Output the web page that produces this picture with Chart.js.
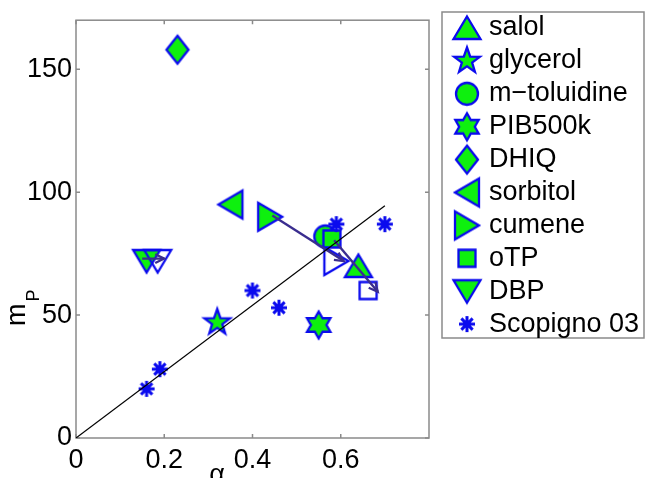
<!DOCTYPE html>
<html>
<head>
<meta charset="utf-8">
<script src="https://cdn.jsdelivr.net/npm/chart.js@4/dist/chart.umd.min.js"></script>
<style>
  html, body { margin: 0; padding: 0; background: #fff; }
  canvas { display: block; }
</style>
</head>
<body>
<canvas id="mpChart" width="646" height="478"></canvas>
<script>
// alpha vs fragility m_P; where a liquid has two points the second is the shifted value
const salol      = [[0.64, 70]];
const glycerol   = [[0.32, 47]];
const mToluidine = [[0.565, 82]];
const pib500k    = [[0.55, 46]];
const dhiq       = [[0.23, 158]];
const sorbitol   = [[0.35, 95]];
const cumene     = [[0.44, 90], [0.59, 72]];
const otp        = [[0.58, 81], [0.662, 60]];
const dbp        = [[0.16, 72], [0.185, 72]];
const scopigno   = [[0.16, 20], [0.19, 28], [0.40, 60], [0.46, 53], [0.59, 87], [0.70, 87]];

// shift arrows and the linear guide
const cumeneShift = [[0.445, 90.5], [0.607, 72]];
const otpShift    = [[0.585, 80.5], [0.684, 59.5]];
const dbpShift    = [[0.15, 73], [0.20, 73]];
const guideLine   = [[0, 0], [0.70, 94.5]];

const xTicks = [0, 0.2, 0.4, 0.6];
const yTicks = [0, 50, 100, 150];

const BLUE = '#0a0aee';
const GREEN = '#0ef00e';
const GRAY = '#8a8a8a';
const ARROW = '#3a2d8f';
const FONT = "'Liberation Sans', Arial, sans-serif";

Chart.defaults.font.family = FONT;

function toXY(pts) {
    return pts.map(p => ({x: p[0], y: p[1]}));
}

// marker sprites used as pointStyle images
function marker(shape, filled) {
    const s = 38;
    const c = document.createElement('canvas');
    c.width = s;
    c.height = s;
    const g = c.getContext('2d');
    g.translate(s / 2, s / 2);
    g.lineWidth = 2.3;
    g.strokeStyle = BLUE;
    g.fillStyle = GREEN;
    g.lineJoin = 'miter';
    g.beginPath();
    if (shape === 'up') {
        g.moveTo(0, -11.5); g.lineTo(13.5, 11); g.lineTo(-13.5, 11);
    } else if (shape === 'down') {
        g.moveTo(0, 11.5); g.lineTo(13.5, -11); g.lineTo(-13.5, -11);
    } else if (shape === 'left') {
        g.moveTo(-12, 0); g.lineTo(12, -14); g.lineTo(12, 14);
    } else if (shape === 'right') {
        g.moveTo(12, 0); g.lineTo(-12, -14); g.lineTo(-12, 14);
    } else if (shape === 'diamond') {
        g.moveTo(0, -14); g.lineTo(11, 0); g.lineTo(0, 14); g.lineTo(-11, 0);
    } else if (shape === 'circle') {
        g.arc(0, 0, 11, 0, Math.PI * 2);
    } else if (shape === 'square') {
        g.rect(-8.5, -8.5, 17, 17);
    } else if (shape === 'star5' || shape === 'star6') {
        const n = shape === 'star5' ? 5 : 6;
        const ro = 13.5;
        const ri = shape === 'star5' ? 5.4 : 7.8;
        for (let i = 0; i < n * 2; i++) {
            const r = i % 2 ? ri : ro;
            const a = -Math.PI / 2 + i * Math.PI / n;
            g.lineTo(r * Math.cos(a), r * Math.sin(a));
        }
    } else if (shape === 'asterisk') {
        g.lineWidth = 3;
        g.lineCap = 'butt';
        for (let i = 0; i < 4; i++) {
            const a = i * Math.PI / 4;
            g.moveTo(-8 * Math.cos(a), -8 * Math.sin(a));
            g.lineTo(8 * Math.cos(a), 8 * Math.sin(a));
        }
        g.stroke();
        return c;
    }
    g.closePath();
    if (filled) g.fill();
    g.stroke();
    return c;
}

// later series are painted over earlier ones
let seriesCount = 0;

function series(label, pts, shape) {
    const full = marker(shape, true);
    const open = marker(shape, false);
    seriesCount++;
    return {
        label: label,
        data: toXY(pts),
        pointStyle: pts.map((p, i) => i === 0 || shape === 'asterisk' ? full : open),
        pointRadius: 13,
        legendImg: full,
        order: 50 - seriesCount
    };
}

function guide(pts, color, width, arrow) {
    return {
        data: toXY(pts),
        showLine: true,
        borderColor: color,
        borderWidth: width,
        pointRadius: 0,
        arrow: arrow,
        order: arrow ? 1 : 0
    };
}

const datasets = [
    series('salol', salol, 'up'),
    series('glycerol', glycerol, 'star5'),
    series('m\u2212toluidine', mToluidine, 'circle'),
    series('PIB500k', pib500k, 'star6'),
    series('DHIQ', dhiq, 'diamond'),
    series('sorbitol', sorbitol, 'left'),
    series('cumene', cumene, 'right'),
    series('oTP', otp, 'square'),
    series('DBP', dbp, 'down'),
    series('Scopigno 03', scopigno, 'asterisk'),
    guide(cumeneShift, ARROW, 2.4, true),
    guide(otpShift, ARROW, 2.4, true),
    guide(dbpShift, ARROW, 2.4, true),
    guide(guideLine, '#000', 1.2, false)
];

// axis box with inward ticks on all four sides
const frame = {
    id: 'frame',
    beforeDatasetsDraw(chart) {
        const {ctx, chartArea: a, scales} = chart;
        ctx.save();
        ctx.strokeStyle = GRAY;
        ctx.lineWidth = 1.5;
        ctx.strokeRect(a.left, a.top, a.right - a.left, a.bottom - a.top);
        ctx.beginPath();
        xTicks.forEach(v => {
            const x = scales.x.getPixelForValue(v);
            ctx.moveTo(x, a.bottom); ctx.lineTo(x, a.bottom - 4);
            ctx.moveTo(x, a.top); ctx.lineTo(x, a.top + 4);
        });
        yTicks.forEach(v => {
            const y = scales.y.getPixelForValue(v);
            ctx.moveTo(a.left, y); ctx.lineTo(a.left + 4, y);
            ctx.moveTo(a.right, y); ctx.lineTo(a.right - 4, y);
        });
        ctx.stroke();
        ctx.restore();
    }
};

// V-shaped heads at the end of the shift lines
const arrowHeads = {
    id: 'arrowHeads',
    afterDatasetsDraw(chart) {
        const ctx = chart.ctx;
        chart.data.datasets.forEach((ds, i) => {
            if (!ds.arrow) return;
            const pts = chart.getDatasetMeta(i).data;
            const p0 = pts[pts.length - 2], p1 = pts[pts.length - 1];
            const ang = Math.atan2(p1.y - p0.y, p1.x - p0.x);
            const len = 10, spread = 0.45;
            ctx.save();
            ctx.strokeStyle = ds.borderColor;
            ctx.lineWidth = 2.2;
            ctx.beginPath();
            ctx.moveTo(p1.x - len * Math.cos(ang - spread), p1.y - len * Math.sin(ang - spread));
            ctx.lineTo(p1.x, p1.y);
            ctx.lineTo(p1.x - len * Math.cos(ang + spread), p1.y - len * Math.sin(ang + spread));
            ctx.stroke();
            ctx.restore();
        });
    }
};

// boxed legend on the right
const legendBox = {
    id: 'legendBox',
    afterDraw(chart) {
        const ctx = chart.ctx;
        ctx.save();
        ctx.strokeStyle = GRAY;
        ctx.lineWidth = 1.5;
        ctx.strokeRect(442, 12, 202, 326);
        ctx.fillStyle = '#000';
        ctx.font = '27px ' + FONT;
        ctx.textAlign = 'left';
        ctx.textBaseline = 'middle';
        let row = 0;
        chart.data.datasets.forEach(ds => {
            if (!ds.legendImg) return;
            const y = 28 + row * 32.9;
            ctx.drawImage(ds.legendImg, 467 - ds.legendImg.width / 2, y - ds.legendImg.height / 2);
            ctx.fillText(ds.label, 489, y);
            row++;
        });
        ctx.restore();
    }
};

// axis titles: m_P (rotated, subscript P) and alpha
const axisTitles = {
    id: 'axisTitles',
    afterDraw(chart) {
        const ctx = chart.ctx;
        ctx.save();
        ctx.fillStyle = '#000';
        ctx.textAlign = 'center';
        ctx.textBaseline = 'alphabetic';
        ctx.font = '27px ' + FONT;
        ctx.fillText('\u03b1', 217, 483);
        ctx.translate(25, 326);
        ctx.rotate(-Math.PI / 2);
        ctx.textAlign = 'left';
        ctx.font = '27px ' + FONT;
        ctx.fillText('m', 0, 0);
        const w = ctx.measureText('m').width;
        ctx.font = '18px ' + FONT;
        ctx.fillText('P', w + 2, 14);
        ctx.restore();
    }
};

new Chart(document.getElementById('mpChart'), {
    type: 'scatter',
    data: {datasets: datasets},
    options: {
        responsive: false,
        animation: false,
        devicePixelRatio: 1,
        events: [],
        layout: {padding: {top: 12, right: 217, left: 0, bottom: 0}},
        plugins: {legend: {display: false}, tooltip: {enabled: false}},
        scales: {
            x: {
                type: 'linear',
                min: 0,
                max: 0.8,
                grid: {display: false, drawTicks: false},
                border: {display: false},
                afterBuildTicks: s => { s.ticks = xTicks.map(v => ({value: v})); },
                afterFit: s => { s.height = 40; },
                ticks: {
                    color: '#000',
                    font: {size: 27},
                    padding: 6,
                    maxRotation: 0,
                    autoSkip: false,
                    callback: v => String(v)
                }
            },
            y: {
                type: 'linear',
                min: 0,
                max: 170,
                grid: {display: false, drawTicks: false},
                border: {display: false},
                afterBuildTicks: s => { s.ticks = yTicks.map(v => ({value: v})); },
                afterFit: s => { s.width = 76; },
                ticks: {
                    color: '#000',
                    font: {size: 27},
                    padding: 4,
                    autoSkip: false,
                    callback: v => String(v)
                }
            }
        }
    },
    plugins: [frame, arrowHeads, legendBox, axisTitles]
});
</script>
</body>
</html>
